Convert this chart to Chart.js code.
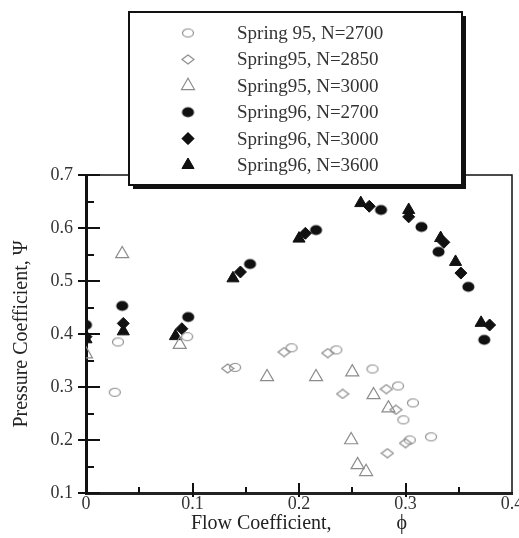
<!DOCTYPE html>
<html>
<head>
<meta charset="utf-8">
<script src="https://cdn.jsdelivr.net/npm/chart.js@4/dist/chart.umd.min.js"></script>
<style>
  html, body { margin: 0; padding: 0; background: #fff; }
  canvas { display: block; }
</style>
</head>
<body>
<canvas id="chart" width="519" height="538"></canvas>
<script>
// values (phi = flow coefficient, psi = pressure coefficient)
const seriesLabels = [
  'Spring 95, N=2700',
  'Spring95, N=2850',
  'Spring95, N=3000',
  'Spring96, N=2700',
  'Spring96, N=3000',
  'Spring96, N=3600'
];

const phi95n2700 = [0.030, 0.027, 0.095, 0.140, 0.193, 0.235, 0.269, 0.293, 0.307, 0.298, 0.304, 0.324];
const psi95n2700 = [0.385, 0.290, 0.395, 0.337, 0.374, 0.370, 0.334, 0.302, 0.270, 0.238, 0.200, 0.206];

const phi95n2850 = [0.133, 0.186, 0.227, 0.241, 0.282, 0.291, 0.300, 0.283];
const psi95n2850 = [0.335, 0.366, 0.364, 0.287, 0.296, 0.257, 0.194, 0.175];

const phi95n3000 = [0.000, 0.034, 0.088, 0.170, 0.216, 0.250, 0.270, 0.284, 0.249, 0.255, 0.263];
const psi95n3000 = [0.362, 0.551, 0.380, 0.319, 0.319, 0.328, 0.285, 0.260, 0.200, 0.153, 0.140];

const phi96n2700 = [0.000, 0.034, 0.096, 0.154, 0.216, 0.277, 0.315, 0.331, 0.359, 0.374];
const psi96n2700 = [0.417, 0.453, 0.432, 0.532, 0.596, 0.634, 0.602, 0.555, 0.489, 0.389];

const phi96n3000 = [0.000, 0.035, 0.090, 0.145, 0.206, 0.266, 0.303, 0.336, 0.352, 0.379];
const psi96n3000 = [0.395, 0.420, 0.410, 0.517, 0.590, 0.641, 0.621, 0.573, 0.515, 0.417];

const phi96n3600 = [0.000, 0.035, 0.084, 0.138, 0.200, 0.258, 0.303, 0.333, 0.347, 0.371];
const psi96n3600 = [0.390, 0.405, 0.396, 0.505, 0.580, 0.647, 0.634, 0.581, 0.536, 0.421];

const xTickLabels = ['0', '0.1', '0.2', '0.3', '0.4'];
const yTickLabels = ['0.1', '0.2', '0.3', '0.4', '0.5', '0.6', '0.7'];

const SERIF = '"Liberation Serif", "Times New Roman", serif';
const OPEN = '#8c8c8c';
const INK = '#111';

function pairs(xs, ys) {
  return xs.map((x, i) => ({ x: x, y: ys[i] }));
}

// small canvases for the flattened marker shapes
function ellipseMarker(w, h, filled) {
  const c = document.createElement('canvas');
  c.width = w + 2; c.height = h + 2;
  const g = c.getContext('2d');
  g.beginPath();
  g.ellipse(c.width / 2, c.height / 2, w / 2 - 0.5, h / 2 - 0.5, 0, 0, Math.PI * 2);
  if (filled) { g.fillStyle = INK; g.fill(); }
  else { g.strokeStyle = OPEN; g.lineWidth = 1.2; g.stroke(); }
  return c;
}

function diamondMarker(w, h) {
  const c = document.createElement('canvas');
  c.width = w + 2; c.height = h + 2;
  const g = c.getContext('2d');
  const cx = c.width / 2, cy = c.height / 2;
  g.beginPath();
  g.moveTo(cx - w / 2, cy);
  g.lineTo(cx, cy - h / 2);
  g.lineTo(cx + w / 2, cy);
  g.lineTo(cx, cy + h / 2);
  g.closePath();
  g.strokeStyle = OPEN; g.lineWidth = 1.2; g.stroke();
  return c;
}

const openCircle = ellipseMarker(12, 9, false);
const openDiamond = diamondMarker(12, 9);
const fullCircle = ellipseMarker(13, 11, true);

const datasets = [
  { label: seriesLabels[0], data: pairs(phi95n2700, psi95n2700), pointStyle: openCircle, pointRadius: 6, borderColor: OPEN, backgroundColor: 'rgba(0,0,0,0)', borderWidth: 1.2 },
  { label: seriesLabels[1], data: pairs(phi95n2850, psi95n2850), pointStyle: openDiamond, pointRadius: 6, borderColor: OPEN, backgroundColor: 'rgba(0,0,0,0)', borderWidth: 1.2 },
  { label: seriesLabels[2], data: pairs(phi95n3000, psi95n3000), pointStyle: 'triangle', pointRadius: 7.5, borderColor: OPEN, backgroundColor: 'rgba(0,0,0,0)', borderWidth: 1.2 },
  { label: seriesLabels[3], data: pairs(phi96n2700, psi96n2700), pointStyle: fullCircle, pointRadius: 6, borderColor: INK, backgroundColor: INK, borderWidth: 1 },
  { label: seriesLabels[4], data: pairs(phi96n3000, psi96n3000), pointStyle: 'rectRot', pointRadius: 6, borderColor: INK, backgroundColor: INK, borderWidth: 1 },
  { label: seriesLabels[5], data: pairs(phi96n3600, psi96n3600), pointStyle: 'triangle', pointRadius: 7, borderColor: INK, backgroundColor: INK, borderWidth: 1 }
];

// inner ticks, the thin top/right frame and the boxed legend with a drop shadow
const frameDecor = {
  id: 'frameDecor',
  afterDatasetsDraw(chart) {
    const { ctx, chartArea: a, scales: { x, y } } = chart;
    ctx.save();
    ctx.strokeStyle = INK;
    ctx.lineWidth = 1.5;
    ctx.beginPath();
    ctx.moveTo(a.left, a.top); ctx.lineTo(a.right, a.top); ctx.lineTo(a.right, a.bottom);
    ctx.stroke();

    ctx.lineWidth = 2;
    ctx.beginPath();
    for (let v = 0.15; v < 0.7; v += 0.1) {
      const py = Math.round(y.getPixelForValue(v));
      ctx.moveTo(a.left, py); ctx.lineTo(a.left + 8, py);
    }
    for (let v = 0.1; v < 0.75; v += 0.1) {
      const py = Math.round(y.getPixelForValue(v));
      ctx.moveTo(a.left - 8, py); ctx.lineTo(a.left + 14, py);
    }
    for (let v = 0.05; v < 0.4; v += 0.1) {
      const px = Math.round(x.getPixelForValue(v));
      ctx.moveTo(px, a.bottom); ctx.lineTo(px, a.bottom - 6);
    }
    for (let v = 0.1; v < 0.35; v += 0.1) {
      const px = Math.round(x.getPixelForValue(v));
      ctx.moveTo(px, a.bottom + 4); ctx.lineTo(px, a.bottom - 10);
    }
    ctx.stroke();
    ctx.restore();
  },
  afterDraw(chart) {
    const { ctx } = chart;
    const bx = 129, by = 12, bw = 333, bh = 173;
    ctx.save();
    ctx.fillStyle = INK;
    ctx.fillRect(bx + 4, by + 4, bw, bh);
    ctx.fillStyle = '#fff';
    ctx.fillRect(bx, by, bw, bh);
    ctx.strokeStyle = INK;
    ctx.lineWidth = 2;
    ctx.strokeRect(bx, by, bw, bh);

    ctx.font = '19px ' + SERIF;
    ctx.textBaseline = 'middle';
    chart.data.datasets.forEach((ds, i) => {
      const cy = 33 + i * 26.4;
      ctx.fillStyle = ds.backgroundColor;
      ctx.strokeStyle = ds.borderColor;
      ctx.lineWidth = ds.borderWidth;
      Chart.helpers.drawPoint(ctx, { pointStyle: ds.pointStyle, radius: ds.pointRadius, rotation: 0, borderWidth: ds.borderWidth }, 188, cy);
      if (typeof ds.pointStyle === 'string') {
        ctx.fill();
      }
      ctx.fillStyle = '#333';
      ctx.fillText(ds.label, 237, cy + 1);
    });
    ctx.restore();
  }
};

new Chart(document.getElementById('chart'), {
  type: 'scatter',
  data: { datasets: datasets },
  plugins: [frameDecor],
  options: {
    responsive: false,
    animation: false,
    layout: { padding: { top: 175, right: 7, left: 0, bottom: 0 }, autoPadding: false },
    plugins: { legend: { display: false }, tooltip: { enabled: false } },
    scales: {
      x: {
        type: 'linear',
        min: 0, max: 0.4,
        grid: { display: false, drawTicks: false },
        border: { display: true, color: '#222', width: 3 },
        ticks: {
          stepSize: 0.1, padding: 0, color: '#333',
          font: { family: SERIF, size: 18 },
          callback: (v, i) => xTickLabels[i]
        },
        title: {
          display: true,
          text: 'Flow Coefficient,             ϕ',
          color: '#222',
          font: { family: SERIF, size: 20 },
          padding: { top: 0, bottom: 2 }
        },
        afterFit: (s) => { s.height = 45; s.paddingLeft = 0; s.paddingRight = 0; }
      },
      y: {
        type: 'linear',
        min: 0.1, max: 0.7,
        grid: { display: false, drawTicks: false },
        border: { display: true, color: INK, width: 3 },
        ticks: {
          stepSize: 0.1, padding: 13, color: '#333',
          font: { family: SERIF, size: 18 },
          callback: (v, i) => yTickLabels[i]
        },
        title: {
          display: true,
          text: 'Pressure Coefficient, Ψ',
          color: '#222',
          font: { family: SERIF, size: 20 },
          padding: { top: 10, bottom: 0 }
        },
        afterFit: (s) => { s.width = 86; s.paddingTop = 0; s.paddingBottom = 0; }
      }
    }
  }
});
</script>
</body>
</html>
